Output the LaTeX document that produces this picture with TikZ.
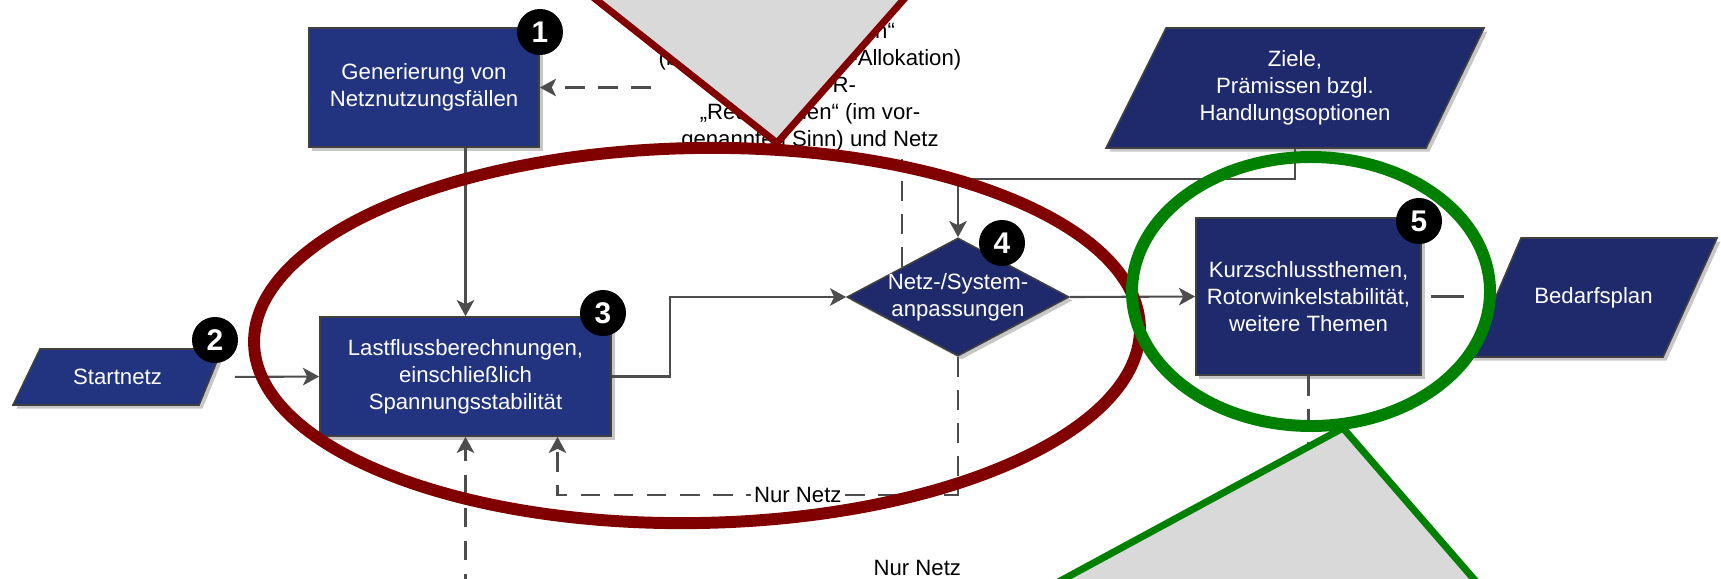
\documentclass[tikz,border=0pt]{standalone}
\usepackage{fontspec}
\setmainfont{Liberation Sans}
\usetikzlibrary{shapes.geometric,arrows.meta,shadows,calc}
\definecolor{navyA}{RGB}{34,51,128}
\definecolor{navyB}{RGB}{30,42,108}
\definecolor{edgegray}{RGB}{64,64,64}
\definecolor{conn}{RGB}{77,77,77}
\definecolor{callout}{RGB}{217,217,217}
\definecolor{hlred}{RGB}{128,0,0}
\definecolor{hlgreen}{RGB}{0,128,0}
\begin{document}
\begin{tikzpicture}[x=0.01cm,y=-0.01cm,
  shadowed/.style={drop shadow={shadow xshift=0.035cm,shadow yshift=-0.035cm,fill=black!22,opacity=1}},
  txt/.style={font=\fontsize{6.3}{7.7}\selectfont},
  procbox/.style={rectangle,draw=edgegray,line width=0.45pt,text=white,align=center,inner sep=0pt,shadowed,txt},
  iofill/.style={draw=edgegray,line width=0.45pt,shadowed},
  iotext/.style={rectangle,text=white,align=center,inner sep=0pt,txt},
  decbox/.style={diamond,draw=edgegray,line width=0.45pt,fill=navyB,inner sep=0pt,shadowed},
  dectext/.style={text=white,align=center,inner sep=0pt,txt},
  badge/.style={circle,fill=black,text=white,inner sep=0pt,minimum size=0.46cm,font=\fontsize{8.5}{8.5}\selectfont\bfseries},
  flow/.style={draw=conn,line width=0.6pt,-{Stealth[length=4.6pt,width=5pt,inset=1.2pt]}},
  optflow/.style={flow,dash pattern=on 5.6pt off 3.8pt},
  plainline/.style={draw=conn,line width=0.6pt},
  lbl/.style={text=black,inner sep=1pt,txt},
  hlring/.style={line width=3.4pt},
  hlpointer/.style={fill=callout,line width=2pt,line join=miter}
]
\useasboundingbox (0,0) rectangle (1721,578);
\clip (0,0) rectangle (1721,578);

% input / output shapes (parallelograms)
\path[iofill,fill=navyA] (13,405) -- (199,405) -- (222,349) -- (40,349) -- cycle;
\node[iotext,minimum width=2.09cm,minimum height=0.56cm] (sn) at (117.5,377) {Startnetz};
\path[iofill,fill=navyB] (1106,148) -- (1426,148) -- (1484,28) -- (1166,28) -- cycle;
\node[iotext,minimum width=3.78cm,minimum height=1.20cm] (z) at (1295,88) {Ziele,\\Prämissen bzgl.\\Handlungsoptionen};
\path[iofill,fill=navyB] (1470,357) -- (1663,357) -- (1717,238) -- (1521,238) -- cycle;
\node[iotext,minimum width=2.47cm,minimum height=1.19cm] (bp) at (1593.5,297.5) {Bedarfsplan};

% process boxes
\node[procbox,fill=navyA,minimum width=2.30cm,minimum height=1.19cm] (b1) at (424,87.5) {Generierung von\\Netznutzungsfällen};
\node[procbox,fill=navyA,minimum width=2.91cm,minimum height=1.19cm] (b3) at (465.5,376.5) {Lastflussberechnungen,\\einschließlich\\Spannungsstabilität};
\node[procbox,fill=navyB,minimum width=2.25cm,minimum height=1.57cm] (b5) at (1308.5,296.5) {Kurzschlussthemen,\\Rotorwinkelstabilität,\\weitere Themen};
\node[decbox,minimum width=2.22cm,minimum height=1.18cm,label={[dectext]center:Netz-/System-\\anpassungen}] (d) at (958,297) {};

% text block
\node[lbl,align=center,inner sep=2pt] (info) at (810,87) {„Marktsimulation“\\(bzw. Einspeisungs-Allokation)\\NOVA-R-\\„Reduktionen“ (im vor-\\genannten Sinn) und Netz};

% solid connectors
\draw[flow] (b3.north |- b1.south) -- (b3.north);
\draw[flow,shorten <=0.12cm] (sn.east) -- (b3.west);
\draw[flow] (b3.east) -- ++(58,0) |- (d.west);
\draw[flow] (z.south) -- ++(0,30) -| (d.north);
\draw[flow] (d.east) -- (b5.west);
\draw[plainline,shorten <=0.09cm] (b5.east) -- ++(42,0) coordinate (bpin);

% dashed connectors
\draw[optflow] (d.north west) -- (d.north west |- info.south) (info.west |- b1.east) -- (b1.east);
\coordinate (nn1) at (0,495);
\coordinate (b3r) at ($(b3.south)+(92,0)$);
\draw[optflow] (d.south) -- (d.south |- nn1) -- (b3r |- nn1) node[lbl,fill=white,pos=0.4] {Nur Netz} -- (b3r);
\coordinate (nn2) at (0,592);
\draw[optflow] (b5.south) -- (b5.south |- nn2) -- (b3.south |- nn2) node[lbl,pos=0.464,above=0.12cm] {Nur Netz} -- (b3.south);

% badges
\node[badge] (n1) at (540,32) {1};
\node[badge] (n2) at (215,340) {2};
\node[badge] (n3) at (603,313) {3};
\node[badge] (n4) at (1002,243) {4};
\node[badge] (n5) at (1419,221) {5};

% highlights
\draw[hlpointer,draw=hlred] (584,-10) -- (777,143) -- (912,-10) -- cycle;
\draw[hlring,draw=hlred,rotate around={1:(697,335.5)}] (697,335.5) ellipse [x radius=443, y radius=187.5];
\draw[hlpointer,draw=hlgreen] (1025,600) -- (1343,428) -- (1492,600) -- cycle;
\draw[hlring,draw=hlgreen] (1311,291.5) ellipse [x radius=179, y radius=134.5];
\end{tikzpicture}
\end{document}
